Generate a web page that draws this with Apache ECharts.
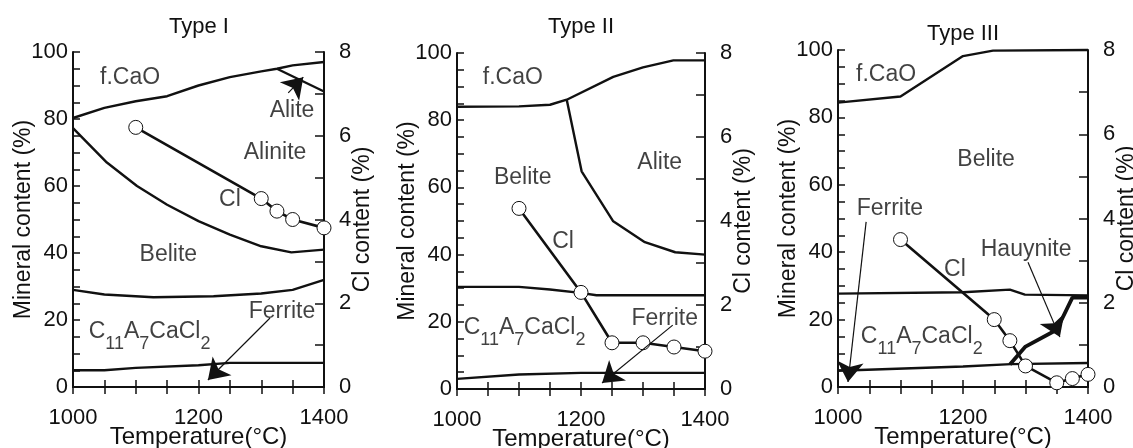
<!DOCTYPE html>
<html>
<head>
<meta charset="utf-8">
<script src="https://cdn.jsdelivr.net/npm/echarts@6/dist/echarts.min.js"></script>
<style>
  html, body { margin: 0; padding: 0; background: #fff; }
  #chart { width: 1133px; height: 448px; }
</style>
</head>
<body>
<div id="chart"></div>
<script>
// Type I boundaries [temperature, mineral %]
const t1CaO = [[1000, 80.3], [1050, 83.3], [1100, 85.3], [1150, 86.8], [1200, 90], [1250, 92.5], [1300, 94.2], [1325, 95], [1350, 96], [1400, 97]];
const t1Alite = [[1325, 95], [1400, 88.2]];
const t1Alinite = [[1000, 77.3], [1054, 67], [1102, 60], [1150, 54.4], [1200, 49.5], [1250, 45.5], [1300, 42], [1348, 40.2], [1400, 41]];
const t1Belite = [[1000, 29], [1050, 27.6], [1128, 26.8], [1224, 27.1], [1300, 27.9], [1350, 29], [1400, 32]];
const t1Ferrite = [[1000, 5], [1050, 5], [1100, 5.7], [1200, 6.5], [1250, 7.2], [1400, 7.2]];
const t1ClTemp = [1100, 1300, 1325, 1350, 1400];
const t1Cl = [6.2, 4.5, 4.2, 4.0, 3.8];

// Type II
const t2CaO = [[1000, 84], [1100, 84.1], [1150, 84.6], [1177, 86.1], [1252, 92.9], [1300, 95.7], [1349, 97.8], [1400, 97.8]];
const t2Alite = [[1177, 86.1], [1201, 64.8], [1252, 49.9], [1303, 43.7], [1352, 40.7], [1400, 40]];
const t2Belite = [[1000, 30.4], [1100, 30.4], [1150, 29.6], [1199, 28.6], [1225, 27.9], [1400, 27.9]];
const t2Ferrite = [[1000, 3], [1100, 4.3], [1200, 4.8], [1400, 4.8]];
const t2ClTemp = [1100, 1200, 1250, 1300, 1350, 1400];
const t2Cl = [4.3, 2.3, 1.1, 1.1, 1.0, 0.9];

// Type III
const t3CaO = [[1000, 84.4], [1100, 86.2], [1200, 98.2], [1248, 99.8], [1400, 100]];
const t3Belite = [[1000, 27.7], [1200, 28.1], [1275, 28.9], [1299, 27.4], [1400, 27.2]];
const t3Ferrite = [[1000, 4.8], [1200, 6.1], [1277, 6.8], [1400, 7.1]];
const t3Hauynite = [[1275, 6.7], [1300, 12], [1350, 17], [1375, 26.5], [1400, 26.5]];
const t3ClTemp = [1100, 1250, 1275, 1300, 1350, 1375, 1400];
const t3Cl = [3.5, 1.6, 1.1, 0.5, 0.1, 0.2, 0.3];

const titles = ['Type I', 'Type II', 'Type III'];

// region labels [text, temperature, mineral %]
const t1Notes = [['f.CaO', 1091, 92.2], ['Alite', 1349, 82.5], ['Alinite', 1322, 70], ['Cl', 1250, 55.8], ['Belite', 1152, 39.4], ['Ferrite', 1333, 22.5], ['C11A7CaCl2', 1122, 16.6]];
const t2Notes = [['f.CaO', 1090, 92.8], ['Alite', 1327, 67.3], ['Belite', 1106, 62.8], ['Cl', 1171, 43.8], ['Ferrite', 1335, 21], ['C11A7CaCl2', 1109, 18.3]];
const t3Notes = [['f.CaO', 1077, 92.6], ['Belite', 1237, 67.4], ['Ferrite', 1083, 53], ['Hauynite', 1301, 40.7], ['Cl', 1187, 34.7], ['C11A7CaCl2', 1134, 15]];

// arrows [from, to]
const t1Arrows = [[[1343, 87.8], [1367, 92.5]], [[1314, 20.6], [1215, 2.1]]];
const t2Arrows = [[[1348, 19], [1234, 1.8]]];
const t3Arrows = [[[1045, 49], [1016, 1.5]], [[1304, 37], [1355, 14.8]]];

const FONT = 'Liberation Sans';
const grids = [
  { left: 73, width: 251, top: 52, height: 335, outerBoundsMode: 'none' },
  { left: 457, width: 248, top: 53, height: 336, outerBoundsMode: 'none' },
  { left: 838, width: 250, top: 50, height: 337, outerBoundsMode: 'none' }
];
const titlePos = [[199, 16], [581, 16], [963, 23]];

const panels = [
  { bounds: [t1CaO, t1Alite, t1Alinite, t1Belite, t1Ferrite], thick: [], clT: t1ClTemp, cl: t1Cl, notes: t1Notes, arrows: t1Arrows },
  { bounds: [t2CaO, t2Alite, t2Belite, t2Ferrite], thick: [], clT: t2ClTemp, cl: t2Cl, notes: t2Notes, arrows: t2Arrows },
  { bounds: [t3CaO, t3Belite, t3Ferrite], thick: [t3Hauynite], clT: t3ClTemp, cl: t3Cl, notes: t3Notes, arrows: t3Arrows }
];

const black = '#111';
const xAxes = [], yAxes = [], series = [];

grids.forEach((g, i) => {
  const tick = { show: true, inside: true, length: 7, lineStyle: { color: black, width: 1.5 } };
  xAxes.push({
    gridIndex: i, type: 'value', min: 1000, max: 1400, interval: 200, position: 'bottom',
    axisLine: { lineStyle: { color: black, width: 2 } },
    axisTick: tick,
    minorTick: { show: true, splitNumber: 4, length: 7, lineStyle: { color: black, width: 1.5 } },
    splitLine: { show: false },
    axisLabel: { color: black, fontSize: 22, fontFamily: FONT, margin: 20, formatter: v => String(v) },
    name: 'Temperature(°C)', nameLocation: 'middle', nameGap: 38, nameMoveOverlap: false,
    nameTextStyle: { color: black, fontSize: 24, fontFamily: FONT }
  });
  xAxes.push({
    gridIndex: i, type: 'value', min: 1000, max: 1400, interval: 200, position: 'top',
    axisLine: { lineStyle: { color: black, width: 2 } },
    axisTick: tick,
    minorTick: { show: true, splitNumber: 4, length: 7, lineStyle: { color: black, width: 1.5 } },
    splitLine: { show: false }, axisLabel: { show: false }
  });
  yAxes.push({
    gridIndex: i, type: 'value', min: 0, max: 100, interval: 20, position: 'left',
    axisLine: { show: true, lineStyle: { color: black, width: 2 } },
    axisTick: tick,
    minorTick: { show: true, splitNumber: 4, length: 7, lineStyle: { color: black, width: 1.5 } },
    splitLine: { show: false },
    axisLabel: { color: black, fontSize: 22, fontFamily: FONT, margin: 5 },
    name: 'Mineral content (%)', nameLocation: 'middle', nameRotate: 90, nameGap: 38, nameMoveOverlap: false,
    nameTextStyle: { color: black, fontSize: 23, fontFamily: FONT }
  });
  yAxes.push({
    gridIndex: i, type: 'value', min: 0, max: 8, interval: 2, position: 'right',
    axisLine: { show: true, lineStyle: { color: black, width: 2 } },
    axisTick: { show: true, inside: true, length: 9, lineStyle: { color: black, width: 1.5 } },
    minorTick: { show: true, splitNumber: 2, length: 9, lineStyle: { color: black, width: 1.5 } },
    splitLine: { show: false },
    axisLabel: { color: black, fontSize: 22, fontFamily: FONT, margin: 15 },
    name: 'Cl content (%)', nameLocation: 'middle', nameRotate: 90, nameGap: 27, nameMoveOverlap: false,
    nameTextStyle: { color: black, fontSize: 23, fontFamily: FONT }
  });

  const p = panels[i];
  p.bounds.forEach((d, k) => {
    const s = {
      type: 'line', xAxisIndex: 2 * i, yAxisIndex: 2 * i, data: d, symbol: 'none',
      lineStyle: { color: black, width: 2.4 }, silent: true, clip: false, z: 2
    };
    if (k === 0) {
      s.markLine = {
        silent: true, symbol: ['none', 'arrow'], symbolSize: 20,
        lineStyle: { color: black, width: 1.2, type: 'solid' },
        label: { show: false },
        data: p.arrows.map(a => [{ coord: a[0] }, { coord: a[1] }])
      };
    }
    series.push(s);
  });
  p.thick.forEach(d => {
    series.push({
      type: 'line', xAxisIndex: 2 * i, yAxisIndex: 2 * i, data: d, symbol: 'none',
      lineStyle: { color: black, width: 3.8 }, silent: true, z: 2
    });
  });
  series.push({
    type: 'line', xAxisIndex: 2 * i, yAxisIndex: 2 * i + 1,
    data: p.clT.map((t, k) => [t, p.cl[k]]),
    symbol: 'circle', symbolSize: 14, showAllSymbol: true, clip: false,
    lineStyle: { color: black, width: 2.6 },
    itemStyle: { color: '#fff', borderColor: black, borderWidth: 1 },
    silent: true, z: 4
  });
  series.push({
    type: 'scatter', xAxisIndex: 2 * i, yAxisIndex: 2 * i,
    data: p.notes.map(n => [n[1], n[2], n[0]]),
    symbolSize: 1, itemStyle: { color: 'rgba(0,0,0,0)' }, silent: true, z: 5,
    label: {
      show: true, position: 'inside', color: black, fontSize: 23, fontFamily: FONT,
      formatter: prm => prm.value[2] === 'C11A7CaCl2'
        ? '{m|C}{s|11}{m|A}{s|7}{m|CaCl}{s|2}'
        : prm.value[2],
      rich: {
        m: { fontSize: 23, fontFamily: FONT, color: black, lineHeight: 44, verticalAlign: 'middle' },
        s: { fontSize: 18, fontFamily: FONT, color: black, lineHeight: 44, verticalAlign: 'bottom' }
      }
    }
  });
});

const chart = echarts.init(document.getElementById('chart'), null, { renderer: 'canvas' });
chart.setOption({
  animation: false,
  backgroundColor: '#fff',
  title: titles.map((t, i) => ({
    text: t, left: titlePos[i][0], top: titlePos[i][1], textAlign: 'center', padding: 0,
    textStyle: { color: black, fontSize: 22, fontWeight: 'normal', fontFamily: FONT }
  })),
  grid: grids,
  xAxis: xAxes,
  yAxis: yAxes,
  series: series
});
</script>
</body>
</html>
